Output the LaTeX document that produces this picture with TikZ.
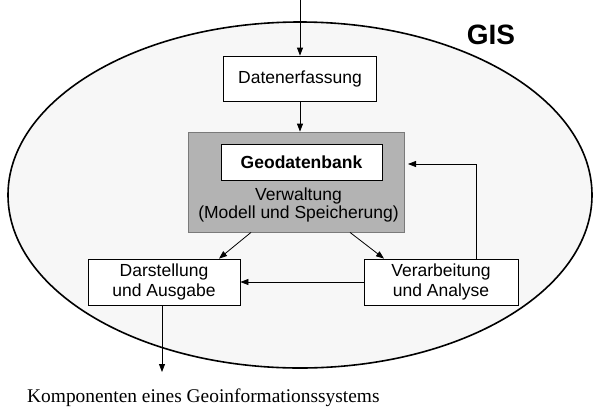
\documentclass[tikz,border=0pt]{standalone}
\usepackage{fontspec}
\setmainfont{Liberation Sans}
\newfontfamily\capfont{Liberation Serif}
\usetikzlibrary{arrows.meta}
\definecolor{ellfill}{HTML}{F7F7F7}
\definecolor{gbfill}{HTML}{B3B3B3}
\definecolor{gbdraw}{HTML}{7A7A7A}
\tikzset{
  boxtxt/.style={font=\fontsize{17.5}{20}\selectfont},
  wbox/.style={boxtxt, draw, fill=white, line width=0.8pt, inner sep=0pt, align=center},
  arr/.style={line width=0.8pt, -{Triangle[length=8pt,width=6pt]}}
}
\begin{document}
\begin{tikzpicture}[x=1pt,y=-1pt]
\useasboundingbox (0,0) rectangle (600,413);
\draw[line width=1.6pt, fill=ellfill] (300,195) ellipse [x radius=292, y radius=173];
\node[font=\bfseries\fontsize{28}{30}\selectfont, inner sep=0pt] (gis) at (491,35) {GIS};
\node[wbox, minimum width=153pt, minimum height=45pt] (de) at (300,78.5) {Datenerfassung};
\node[draw=gbdraw, fill=gbfill, line width=0.8pt, minimum width=216pt, minimum height=100pt, inner sep=0pt] (gb) at (296,182) {};
\node[wbox, minimum width=161pt, minimum height=36pt, font=\bfseries\fontsize{17.5}{20}\selectfont] (gdb) at (301.5,162) {Geodatenbank};
\node[boxtxt, align=center, inner sep=0pt, font=\fontsize{17.5}{18}\selectfont] (vw) at (298.5,205) {Verwaltung\\(Modell und Speicherung)};
\node[wbox, minimum width=152pt, minimum height=46pt] (dar) at (164,282) {Darstellung\\und Ausgabe};
\node[wbox, minimum width=154pt, minimum height=46pt] (ver) at (441,282) {Verarbeitung\\und Analyse};
\node[anchor=base west, inner sep=0pt, font=\capfont\fontsize{19.4}{22}\selectfont] (cap) at (27,402) {Komponenten eines Geoinformationssystems};
\coordinate (top) at (300,0);
\coordinate (fb) at (408,164);
\coordinate (out) at (162,372);
\draw[arr] (top) -- (de.north);
\draw[arr] (de.south) -- (de.south |- gb.north);
\draw[arr] ([xshift=-45pt]gb.south) -- ([xshift=55pt]dar.north);
\draw[arr] ([xshift=54pt]gb.south) -- ([xshift=-57pt]ver.north);
\draw[arr] ([xshift=35pt]ver.north) |- (fb);
\draw[arr] (ver.west) -- (dar.east);
\draw[arr] (dar.south -| out) -- (out);
\end{tikzpicture}
\end{document}
